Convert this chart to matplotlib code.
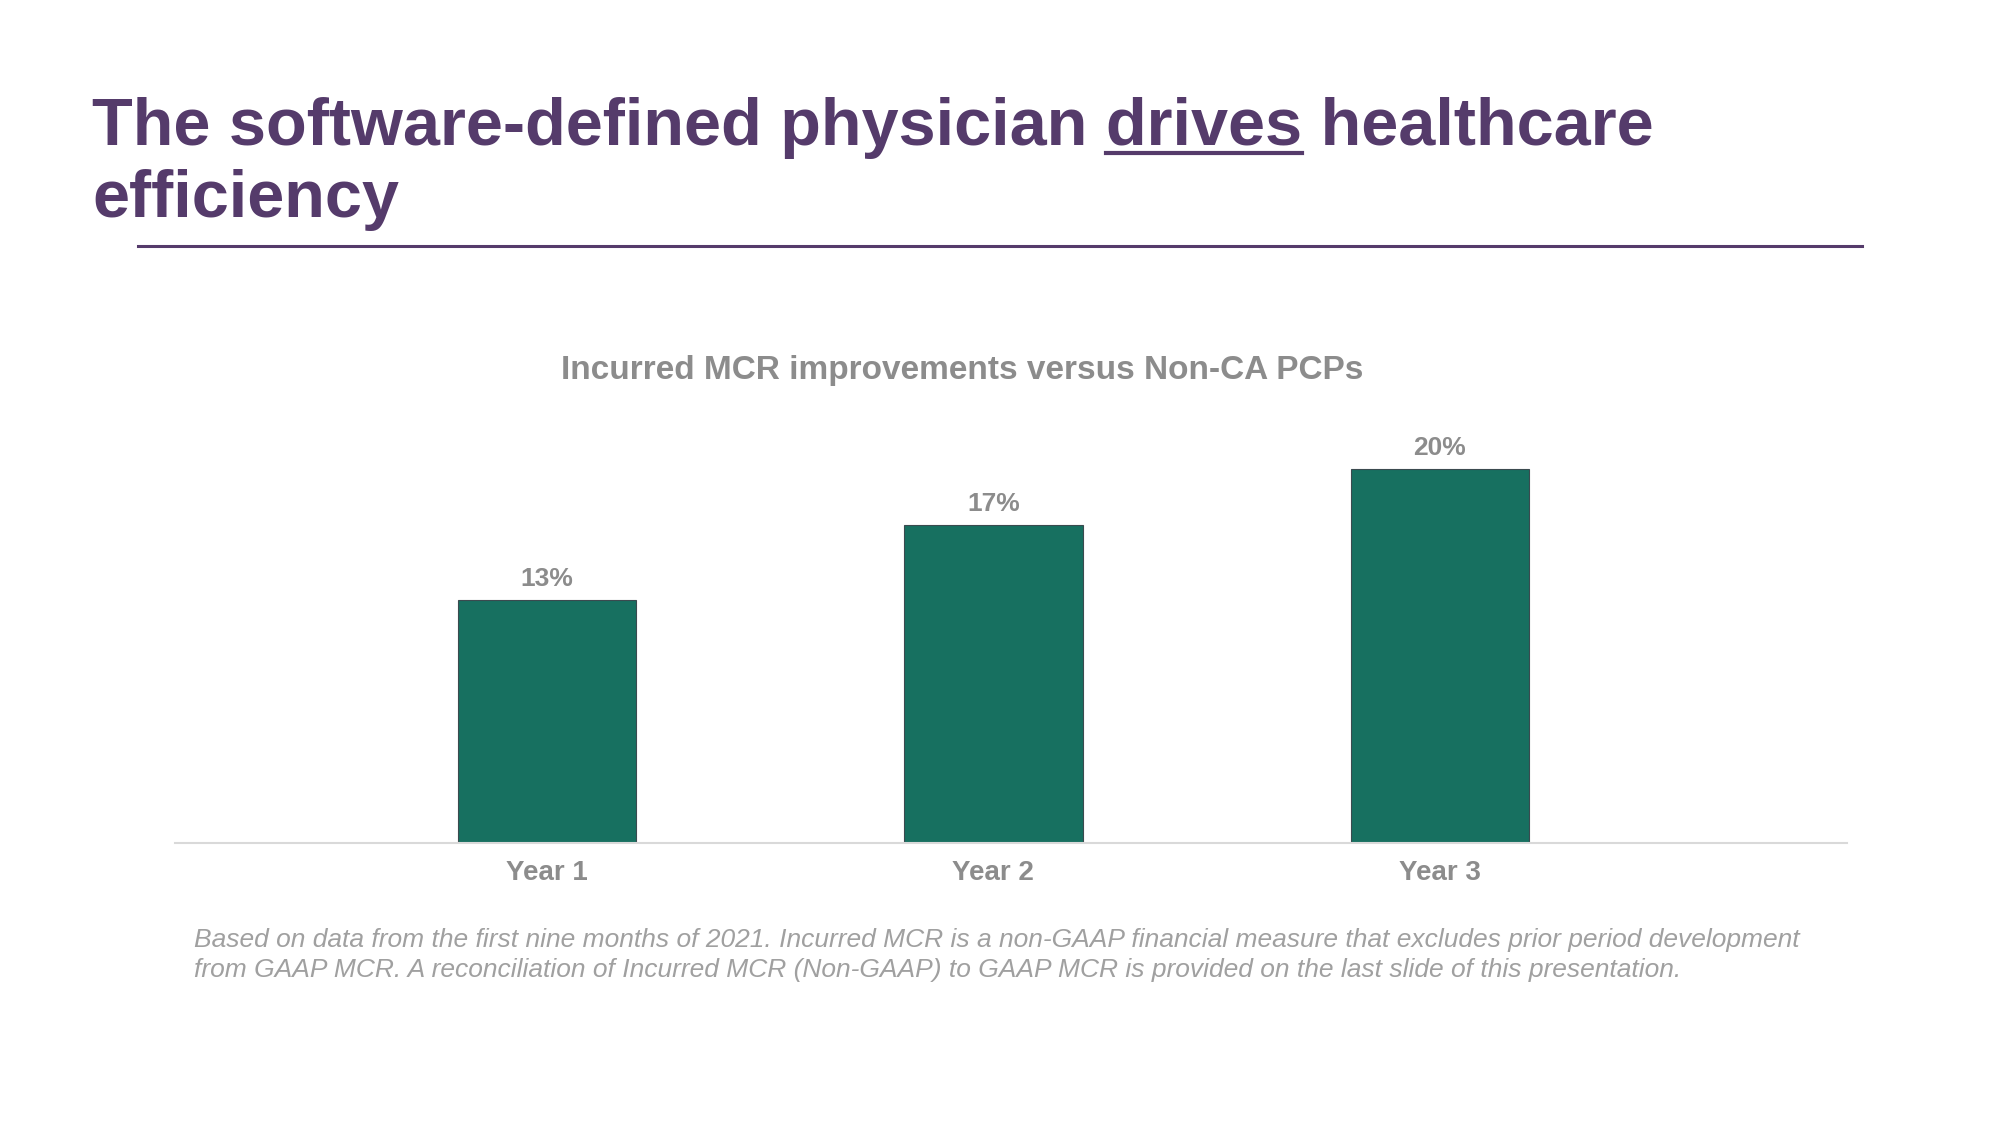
import matplotlib
matplotlib.use("Agg")
import matplotlib.pyplot as plt
from matplotlib.lines import Line2D
import numpy as np

plt.rcParams['font.family'] = ['Liberation Sans', 'DejaVu Sans']

categories = ["Year 1", "Year 2", "Year 3"]
values = [13, 17, 20]
value_labels = ["13%", "17%", "20%"]

title_pre = "The software-defined physician "
title_ul = "drives"
title_post = " healthcare"
title_line2 = "efficiency"
subtitle = "Incurred MCR improvements versus Non-CA PCPs"
footnote = ("Based on data from the first nine months of 2021. Incurred MCR is a non-GAAP financial measure that excludes prior period development\n"
            "from GAAP MCR. A reconciliation of Incurred MCR (Non-GAAP) to GAAP MCR is provided on the last slide of this presentation.")

purple = "#553B6B"
teal = "#177060"
gray = "#8C8C8C"
W, H = 2000, 1125

fig = plt.figure(figsize=(20, 11.25), dpi=100)
fig.patch.set_facecolor("white")

# title, with "drives" underlined
tsize = 48
t1 = fig.text(92 / W, 1 - 145 / H, title_pre + title_ul + title_post, fontsize=tsize,
              fontweight="bold", color=purple, va="baseline", ha="left")
fig.text(92 / W, 1 - 217 / H, title_line2, fontsize=tsize,
         fontweight="bold", color=purple, va="baseline", ha="left")
fig.canvas.draw()
r = fig.canvas.get_renderer()
tmp = fig.text(0, 0, (title_pre + title_ul).rstrip(), fontsize=tsize, fontweight="bold")
w_upto = tmp.get_window_extent(r).width
tmp.set_text(title_ul)
w_ul = tmp.get_window_extent(r).width
tmp.remove()
x0 = t1.get_window_extent(r).x0
fig.add_artist(Line2D([(x0 + w_upto - w_ul) / W, (x0 + w_upto) / W],
                      [1 - 153 / H, 1 - 153 / H], color=purple, lw=3,
                      transform=fig.transFigure))

# rule under title
fig.add_artist(Line2D([138 / W, 1862 / W], [1 - 246 / H, 1 - 246 / H],
                      color=purple, lw=2.2, transform=fig.transFigure))

# chart
ax = fig.add_axes([175 / W, 1 - 843 / H, 1672 / W, 400 / H])
x = np.arange(len(categories))
bars = ax.bar(x, values, width=0.4, color=teal, edgecolor="#3B4A4F", linewidth=0.8)
for b, lab in zip(bars, value_labels):
    ax.annotate(lab, (b.get_x() + b.get_width() / 2, b.get_height()),
                xytext=(0, 15), textcoords="offset points", ha="center", va="center",
                fontsize=19, fontweight="bold", color=gray)
ax.set_xlim(-0.833, 2.912)
ax.set_ylim(0, 400 / 18.7)
ax.set_xticks(x)
ax.set_xticklabels(categories, fontsize=20, fontweight="bold", color=gray)
ax.tick_params(axis="x", length=0, pad=12)
ax.set_yticks([])
for s in ["top", "left", "right"]:
    ax.spines[s].set_visible(False)
ax.spines["bottom"].set_color("#D9D9D9")
ax.spines["bottom"].set_linewidth(1.5)

fig.text(962 / W, 1 - 370 / H, subtitle, fontsize=24, fontweight="bold",
         color=gray, ha="center", va="center")

fig.text(194 / W, 1 - 955 / H, footnote, fontsize=19, fontstyle="italic",
         color="#A0A0A0", ha="left", va="center", linespacing=1.35)

fig.savefig("out.png", dpi=100, facecolor="white")
